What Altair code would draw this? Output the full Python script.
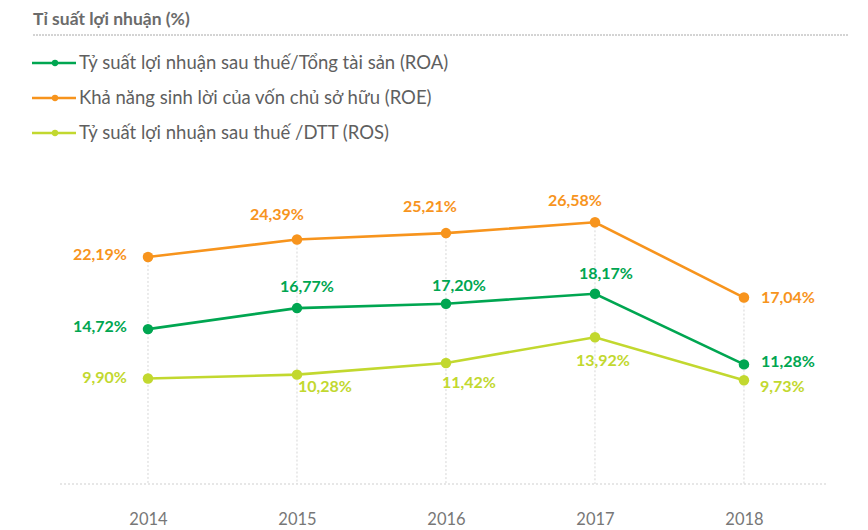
import altair as alt
import pandas as pd

# ---- data ----
years = [2014, 2015, 2016, 2017, 2018]
roa = [14.72, 16.77, 17.20, 18.17, 11.28]
roe = [22.19, 24.39, 25.21, 26.58, 17.04]
ros = [9.90, 10.28, 11.42, 13.92, 9.73]
series_keys = ["ROA", "ROE", "ROS"]
series_labels = [
    "Tỷ suất lợi nhuận sau thuế/Tổng tài sản (ROA)",
    "Khả năng sinh lời của vốn chủ sở hữu (ROE)",
    "Tỷ suất lợi nhuận sau thuế /DTT (ROS)",
]
title_text = "Tỉ suất lợi nhuận (%)"

colors = {"ROA": "#00A651", "ROE": "#F7941D", "ROS": "#C2D82F"}
FONT = "Lato"


def fmt(v):
    return f"{v:.2f}".replace(".", ",") + "%"


rows = []
for key, vals in zip(series_keys, [roa, roe, ros]):
    for y, v in zip(years, vals):
        rows.append({"series": key, "year": y, "value": v, "label": fmt(v)})
df = pd.DataFrame(rows)

W, H = 820, 336
xscale = alt.Scale(domain=[2013.0604, 2018.564], nice=False, zero=False)
low_scale = alt.Scale(domain=[-0.39, 32.39], nice=False, zero=False)
roe_scale = alt.Scale(domain=[-6.6, 36.0], nice=False, zero=False)

xaxis = alt.Axis(
    values=years, format="d", title=None, grid=False, domain=False,
    ticks=False, labelFont=FONT, labelFontSize=16.5,
    labelColor="#777777", labelPadding=27,
)
X = alt.X("year:Q", scale=xscale, axis=xaxis)

base = alt.Chart(df)


def series_layers(key, scale, label_specs, with_grid=False):
    d = base.transform_filter(alt.datum.series == key)
    y = alt.Y("value:Q", scale=scale, axis=None)
    col = colors[key]
    layers = []
    if with_grid:
        layers.append(
            d.mark_rule(color="#d6d6d6", strokeDash=[2, 2], strokeWidth=1).encode(
                x=X, y=y, y2=alt.value(H)
            )
        )
    layers.append(d.mark_line(color=col, strokeWidth=2.6).encode(x=X, y=y))
    layers.append(d.mark_circle(color=col, opacity=1, size=110).encode(x=X, y=y))
    for yrs, align, dx, dy in label_specs:
        layers.append(
            d.transform_filter(alt.FieldOneOfPredicate(field="year", oneOf=yrs))
            .mark_text(
                color=col, font=FONT, fontWeight="bold", fontSize=16,
                align=align, baseline="middle", dx=dx, dy=dy,
            )
            .encode(x=X, y=y, text="label:N")
        )
    return layers


roe_layers = series_layers(
    "ROE", roe_scale,
    [
        ([2014], "right", -21, -2),
        ([2015], "center", -20, -25),
        ([2016], "center", -16, -26),
        ([2017], "center", -20, -21),
        ([2018], "left", 17, 0),
    ],
    with_grid=True,
)
roa_layers = series_layers(
    "ROA", low_scale,
    [
        ([2014], "right", -21, -2),
        ([2015], "center", 10, -21),
        ([2016], "center", 13, -18),
        ([2017], "center", 11, -20),
        ([2018], "left", 17, -2),
    ],
)
ros_layers = series_layers(
    "ROS", low_scale,
    [
        ([2014], "right", -21, -1),
        ([2015], "center", 28, 12),
        ([2016], "center", 23, 20),
        ([2017], "center", 8, 24),
        ([2018], "left", 16, 7),
    ],
)

baseline = alt.Chart(pd.DataFrame({"a": [0]})).mark_rule(
    color="#cfcfcf", strokeDash=[2, 2], strokeWidth=1
).encode(x=alt.value(52), x2=alt.value(820), y=alt.value(H))

roe_chart = alt.layer(*roe_layers)
low_chart = alt.layer(*roa_layers, *ros_layers)

plot = (
    alt.layer(roe_chart, low_chart, baseline)
    .resolve_scale(y="independent")
    .properties(width=W, height=H)
)

# ---- header + legend ----
leg_df = pd.DataFrame({"key": series_keys, "text": series_labels})
ly = alt.Y("text:N", scale=alt.Scale(domain=series_labels, range=[55, 125], type="point", padding=0), axis=None)
cscale = alt.Scale(domain=series_keys, range=[colors[k] for k in series_keys])
leg_base = alt.Chart(leg_df)
leg_line = leg_base.mark_rule(strokeWidth=2.6).encode(
    x=alt.value(24), x2=alt.value(68), y=ly,
    color=alt.Color("key:N", scale=cscale, legend=None),
)
leg_dot = leg_base.mark_circle(size=40, opacity=1).encode(
    x=alt.value(47), y=ly, color=alt.Color("key:N", scale=cscale, legend=None)
)
leg_text = leg_base.mark_text(
    align="left", baseline="middle", font=FONT, fontSize=18.5, color="#5f5f5f"
).encode(x=alt.value(71), y=ly, text="text:N")

hdr_df = pd.DataFrame({"t": [title_text]})
hdr_text = alt.Chart(hdr_df).mark_text(
    align="left", baseline="middle", font=FONT, fontWeight="bold", fontSize=17.5, color="#6b6b6b"
).encode(x=alt.value(25), y=alt.value(12), text="t:N")
hdr_rule = alt.Chart(hdr_df).mark_rule(
    color="#a8a8a8", strokeDash=[2, 1], strokeWidth=1
).encode(x=alt.value(25), x2=alt.value(840), y=alt.value(27))

header = alt.layer(hdr_text, hdr_rule, leg_line, leg_dot, leg_text).properties(width=W, height=140)

chart = (
    alt.vconcat(header, plot, spacing=0)
    .properties(padding=0)
    .configure_view(stroke=None)
)

chart.save("out.html", embed_options={"renderer": "svg", "actions": False})
